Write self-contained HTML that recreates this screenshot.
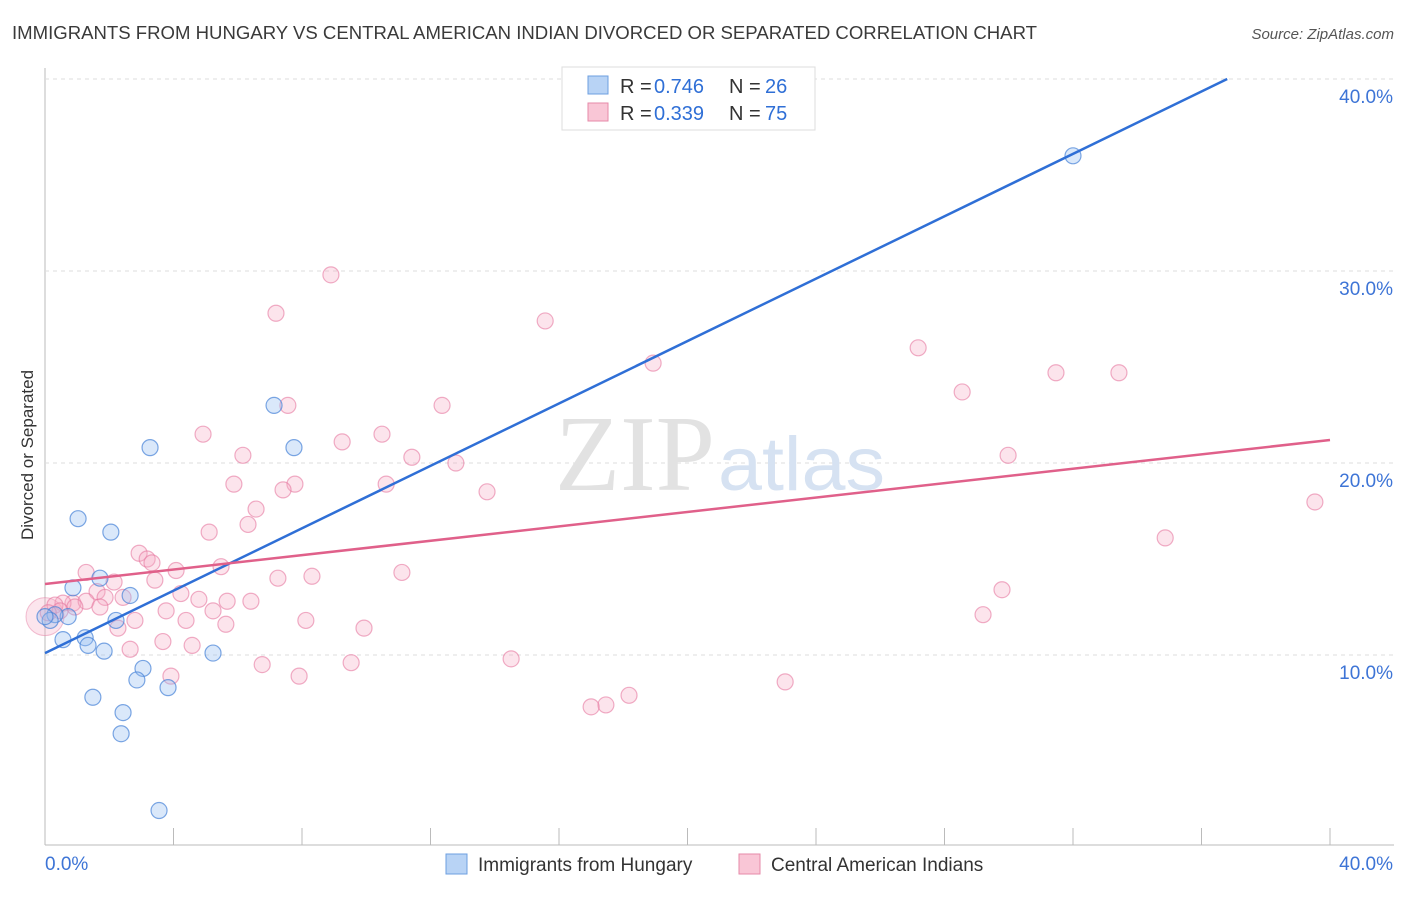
<!DOCTYPE html>
<html><head><meta charset="utf-8"><style>
body{margin:0;background:#fff;font-family:"Liberation Sans",sans-serif;}
</style></head><body>
<svg width="1406" height="892" xmlns="http://www.w3.org/2000/svg" font-family="Liberation Sans, sans-serif">
<text x="12" y="39" font-size="18" fill="#3a3a3a" textLength="1025" lengthAdjust="spacingAndGlyphs">IMMIGRANTS FROM HUNGARY VS CENTRAL AMERICAN INDIAN DIVORCED OR SEPARATED CORRELATION CHART</text>
<text x="1394" y="39" font-size="15" font-style="italic" fill="#555" text-anchor="end">Source: ZipAtlas.com</text>
<text x="33" y="455" font-size="17" fill="#333" text-anchor="middle" transform="rotate(-90 33 455)">Divorced or Separated</text>
<g id="grid"></g>
<text x="715" y="490" font-size="108" font-family="Liberation Serif, serif" fill="#e2e2e2" text-anchor="end" textLength="160" lengthAdjust="spacingAndGlyphs">ZIP</text>
<text x="718" y="490" font-size="76" fill="#d6e2f2" textLength="167" lengthAdjust="spacingAndGlyphs">atlas</text>
<g id="marks"></g>
<g>
<rect x="562" y="67" width="253" height="63" fill="#fff" stroke="#ddd"/>
<rect x="588" y="76" width="20" height="18" fill="#b8d3f5" stroke="#6d9fe0"/>
<text y="93" font-size="20" fill="#333"><tspan x="620">R =</tspan><tspan x="654" fill="#2f6fd6">0.746</tspan><tspan x="729">N =</tspan><tspan x="765" fill="#2f6fd6">26</tspan></text>
<rect x="588" y="103" width="20" height="18" fill="#f9c6d6" stroke="#e68aa8"/>
<text y="120" font-size="20" fill="#333"><tspan x="620">R =</tspan><tspan x="654" fill="#2f6fd6">0.339</tspan><tspan x="729">N =</tspan><tspan x="765" fill="#2f6fd6">75</tspan></text>
</g>
<g>
<rect x="446" y="854" width="21" height="20" fill="#b8d3f5" stroke="#6d9fe0"/>
<text x="478" y="871" font-size="19" fill="#333">Immigrants from Hungary</text>
<rect x="739" y="854" width="21" height="20" fill="#f9c6d6" stroke="#e68aa8"/>
<text x="771" y="871" font-size="19" fill="#333">Central American Indians</text>
</g>
</svg>
<script>
const yTicks=[10,20,30,40];
const xTicks=[0,40];
const blueX=[32.0,7.13,7.75,3.27,1.03,2.05,1.71,0.87,2.65,2.21,0.72,0.31,0.16,0.56,1.25,1.34,1.84,5.23,3.05,2.86,3.83,1.49,2.43,2.37,3.55,0.0];
const blueY=[36.0,23.0,20.8,20.8,17.1,16.4,14.0,13.5,13.1,11.8,12.0,12.1,11.8,10.8,10.9,10.5,10.2,10.1,9.3,8.7,8.3,7.8,7.0,5.9,1.9,12.0];
const pinkX=[8.90,7.19,15.57,27.18,18.93,28.55,31.47,33.43,7.56,12.36,4.92,10.49,9.25,6.16,11.42,12.79,29.98,7.78,5.88,10.62,7.41,13.76,6.57,39.53,6.32,5.11,34.87,2.93,3.18,3.33,5.48,4.08,1.28,11.11,8.31,7.25,2.15,3.42,29.79,1.62,4.23,2.43,1.87,5.67,6.41,4.79,0.87,1.28,0.56,1.71,3.77,5.23,29.2,2.80,4.39,8.12,5.63,9.93,2.27,3.67,4.58,2.65,9.53,6.76,14.51,3.92,7.91,23.04,18.18,17.46,17.0,0.31,0.47,0.93,0.1];
const pinkY=[29.8,27.8,27.4,26.0,25.2,23.7,24.7,24.7,23.0,23.0,21.5,21.5,21.1,20.4,20.3,20.0,20.4,18.9,18.9,18.9,18.6,18.5,17.6,17.97,16.8,16.4,16.1,15.3,15.0,14.8,14.6,14.4,14.3,14.3,14.1,14.0,13.8,13.9,13.4,13.3,13.2,13.0,13.0,12.8,12.8,12.9,12.7,12.8,12.7,12.5,12.3,12.3,12.1,11.8,11.8,11.8,11.6,11.4,11.4,10.7,10.5,10.3,9.6,9.5,9.8,8.9,8.9,8.6,7.9,7.4,7.3,12.6,12.3,12.5,12.2];
const blueTrend=[0,10.1,36.8,40];
const pinkTrend=[0,13.7,40,21.2];
const NS="http://www.w3.org/2000/svg";
const sx=v=>45+v*1285/40;
const sy=v=>847-v*19.2;
function mk(tag,attrs,parent){const e=document.createElementNS(NS,tag);for(const k in attrs)e.setAttribute(k,attrs[k]);parent.appendChild(e);return e;}
const grid=document.getElementById('grid');
const marks=document.getElementById('marks');
let ax=mk('line',{x1:45,y1:68,x2:45,y2:845,stroke:'#bbb'},grid);


let bx=mk('line',{x1:45,y1:845,x2:1394,y2:845,stroke:'#bbb'},grid);


for(let i=1;i<=10;i++){const x=45+i*128.5;let t=mk('line',{x1:x,y1:828,x2:x,y2:845,stroke:'#bbb'},grid);

}
yTicks.forEach(v=>{let l=mk('line',{x1:45,y1:sy(v),x2:1394,y2:sy(v),stroke:'#ddd','stroke-dasharray':'4,4'},grid);


let t=mk('text',{x:1393,y:sy(v)+24,'font-size':19,fill:'#3d74d6','text-anchor':'end'},grid);t.textContent=v.toFixed(1)+'%';

});
xTicks.forEach((v,i)=>{let t=mk('text',{x:i==0?45:1393,y:870,'font-size':19,fill:'#3d74d6','text-anchor':i==0?'start':'end'},grid);t.textContent=v.toFixed(1)+'%';

});
let big=mk('circle',{cx:sx(0),cy:sy(12.0),r:19,fill:'rgba(246,170,195,0.3)',stroke:'rgba(230,130,165,0.5)'},marks);


pinkX.forEach((x,i)=>{let c=mk('circle',{cx:sx(x),cy:sy(pinkY[i]),r:8,fill:'rgba(246,170,195,0.32)',stroke:'rgba(230,120,160,0.6)','stroke-width':1.2},marks);

});
blueX.forEach((x,i)=>{let c=mk('circle',{cx:sx(x),cy:sy(blueY[i]),r:8,fill:'rgba(150,190,240,0.35)',stroke:'rgba(70,130,215,0.7)','stroke-width':1.2},marks);

});
let bl=mk('line',{x1:sx(blueTrend[0]),y1:sy(blueTrend[1]),x2:sx(blueTrend[2]),y2:sy(blueTrend[3]),stroke:'#2f6fd6','stroke-width':2.5},marks);


let pl=mk('line',{x1:sx(pinkTrend[0]),y1:sy(pinkTrend[1]),x2:sx(pinkTrend[2]),y2:sy(pinkTrend[3]),stroke:'#e0608a','stroke-width':2.5},marks);


</script>
</body></html>
